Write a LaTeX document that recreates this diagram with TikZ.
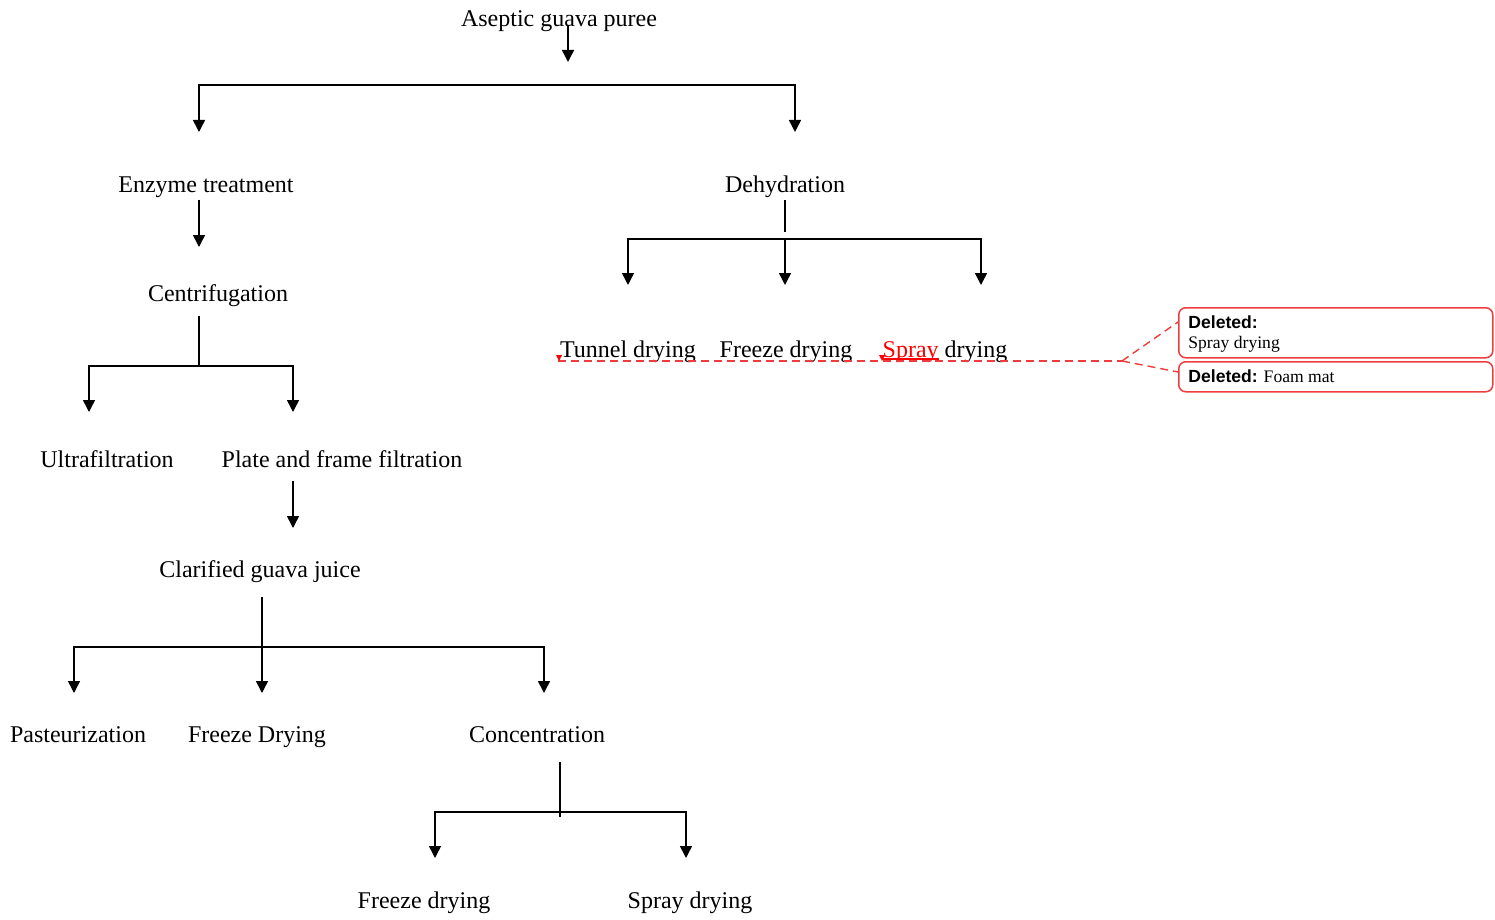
\documentclass[tikz,border=0pt]{standalone}
\usepackage{fontspec}
\setmainfont{Liberation Serif}
\newfontfamily\cmtsans{Liberation Sans}
\usetikzlibrary{arrows.meta}

\definecolor{delred}{RGB}{240,60,60}

\newcommand{\insmark}[1]{\textcolor{red}{\setbox0\hbox{#1}\rlap{\rule[-1.3pt]{\wd0}{0.8pt}}\box0}}

\tikzset{
	lbl/.style={anchor=base, inner sep=0pt, font=\fontsize{12}{14}\selectfont},
	ctxt/.style={anchor=base west, inner sep=0pt, font=\fontsize{8.8}{10}\selectfont},
	ln/.style={line width=0.75pt},
	arr/.style={ln, -{Triangle[width=6pt,length=6pt]}},
	fork/.style={ln, {Triangle[width=6pt,length=6pt]}-{Triangle[width=6pt,length=6pt]}},
	cmt/.style={draw=delred, line width=0.75pt, rounded corners=3.5pt, anchor=north west, minimum width=157pt, inner sep=0pt},
	trk/.style={delred, line width=0.7pt, dash pattern=on 4pt off 2.5pt},
}

\begin{document}
\begin{tikzpicture}[x=0.5pt, y=-0.5pt]
			\useasboundingbox (0,0) rectangle (1495,920);
			
			\node[lbl] (asp) at (559,27) {Aseptic guava puree};
			\node[lbl] (enz) at (206,192) {Enzyme treatment};
			\node[lbl] (deh) at (785,192) {Dehydration};
			\node[lbl] (cen) at (218,301) {Centrifugation};
			\node[lbl] (ultra) at (107,467) {Ultrafiltration};
			\node[lbl] (plate) at (342,467) {Plate and frame filtration};
			\node[lbl] (clar) at (260,577) {Clarified guava juice};
			\node[lbl] (past) at (78,742) {Pasteurization};
			\node[lbl] (fdry) at (257,742) {Freeze Drying};
			\node[lbl] (conc) at (537,742) {Concentration};
			\node[lbl] (fd2) at (424,908) {Freeze drying};
			\node[lbl] (sd2) at (690,908) {Spray drying};
			\node[lbl] (tun) at (628,357) {Tunnel drying};
			\node[lbl] (fd3) at (786,357) {Freeze drying};
			\node[lbl] (sd3) at (945,357) {\insmark{Spray} drying};
			
			% top split
			\coordinate (a0) at (568,25);
			\coordinate (a1) at (568,62);
			\coordinate (b0l) at (199,85);
			\coordinate (b0r) at (795,85);
			\draw[arr] (a0) -- (a1);
			\draw[fork] (b0l |- 0,132) -- (b0l) -- (b0r) -- (b0r |- 0,132);
			
			% left branch
			\coordinate (e0) at (199,200);
			\coordinate (e1) at (199,247);
			\draw[arr] (e0) -- (e1);
			
			\coordinate (c0) at (199,316);
			\coordinate (c1) at (199,365);
			\coordinate (b1l) at (89,366);
			\coordinate (b1r) at (293,366);
			\draw[ln] (c0) -- (c1);
			\draw[fork] (b1l |- 0,412) -- (b1l) -- (b1r) -- (b1r |- 0,412);
			
			\coordinate (p0) at (293,481);
			\coordinate (p1) at (293,528);
			\draw[arr] (p0) -- (p1);
			
			\coordinate (j0) at (262,597);
			\coordinate (j1) at (262,693);
			\coordinate (b2l) at (74,647);
			\coordinate (b2r) at (544,647);
			\draw[arr] (j0) -- (j1);
			\draw[fork] (b2l |- 0,693) -- (b2l) -- (b2r) -- (b2r |- 0,693);
			
			\coordinate (k0) at (560,762);
			\coordinate (k1) at (560,817);
			\coordinate (b3l) at (435,812);
			\coordinate (b3r) at (686,812);
			\draw[ln] (k0) -- (k1);
			\draw[fork] (b3l |- 0,858) -- (b3l) -- (b3r) -- (b3r |- 0,858);
			
			% right branch
			\coordinate (d0) at (785,200);
			\coordinate (d1) at (785,232);
			\coordinate (d2) at (785,239);
			\coordinate (d3) at (785,285);
			\coordinate (b4l) at (628,239);
			\coordinate (b4r) at (981,239);
			\draw[ln] (d0) -- (d1);
			\draw[arr] (d2) -- (d3);
			\draw[fork] (b4l |- 0,285) -- (b4l) -- (b4r) -- (b4r |- 0,285);
			
			% tracked changes
			\node[cmt, minimum height=25pt] (cm1) at (1178,307) {};
			\node[cmt, minimum height=15pt] (cm2) at (1178,361) {};
			\node[ctxt] (cm1a) at (1188,328) {\cmtsans\bfseries Deleted:};
			\node[ctxt] (cm1b) at (1188,348) {Spray drying};
			\node[ctxt] (cm2a) at (1188,382) {{\cmtsans\bfseries Deleted:} Foam mat};
			
			\coordinate (t0) at (558,361);
			\coordinate (t1) at (1122,361);
			\draw[trk] (t0) -- (t1);
			\draw[trk] (t1) -- (cm1.west |- 0,322);
			\draw[trk] (t1) -- (cm2.west |- 0,372);
			\fill[red] (556,355) -- (562,355) -- (559,361) -- cycle;
			\fill[red] (879,355) -- (885,355) -- (882,361) -- cycle;
		\end{tikzpicture}
\end{document}
